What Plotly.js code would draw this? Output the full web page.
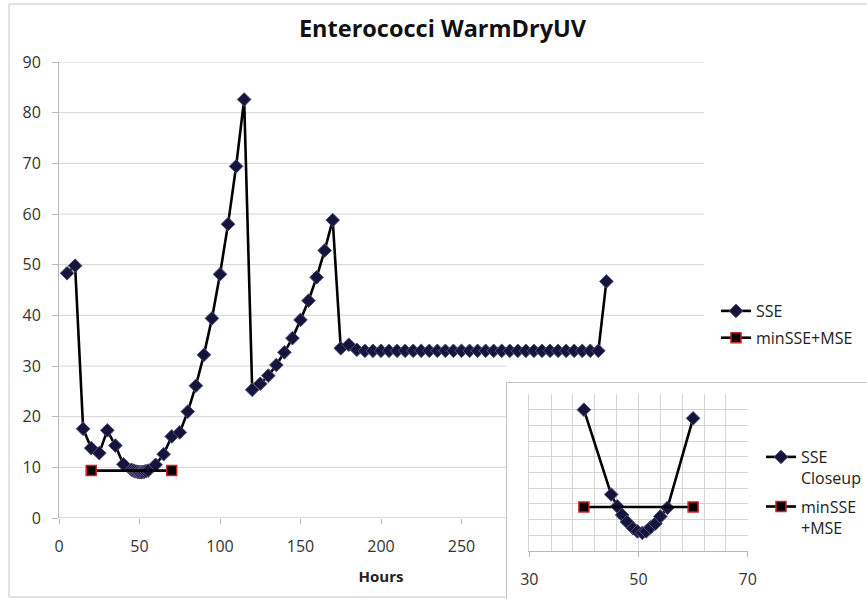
<!DOCTYPE html>
<html>
<head>
<meta charset="utf-8">
<script src="https://cdn.plot.ly/plotly-3.0.1.min.js"></script>
<style>html,body{margin:0;padding:0;background:#fff;}#chart{width:867px;height:599px;}</style>
</head>
<body>
<div id="chart"></div>
<script>
// ---- data ----
var sseX = [5,10,15,20,25,30,35,40,45,46.1,47,47.9,49,49.8,50.7,51.4,52.2,53.1,54,55.3,60,65,70,75,80,85,90,95,100,105,110,115,120,125,130,135,140,145,150,155,160,165,170,175,180,185,190,195,200,205,210,215,220,225,230,235,240,245,250,255,260,265,270,275,280,285,290,295,300,305,310,315,320,325,330,335,340];
var sseY = [48.3,49.8,17.6,13.8,12.8,17.3,14.3,10.6,9.52,9.37,9.26,9.17,9.09,9.05,9.03,9.05,9.10,9.15,9.24,9.35,10.5,12.6,16.1,16.9,21.0,26.1,32.2,39.4,48.1,58.0,69.4,82.6,25.3,26.5,28.1,30.2,32.7,35.5,39.1,42.9,47.5,52.8,58.8,33.5,34.2,33.2,33.0,33.0,33.0,33.0,33.0,33.0,33.0,33.0,33.0,33.0,33.0,33.0,33.0,33.0,33.0,33.0,33.0,33.0,33.0,33.0,33.0,33.0,33.0,33.0,33.0,33.0,33.0,33.0,33.0,33.0,46.7];
var minX = [20, 70];
var minY = [9.36, 9.36];

var closeX = [40,45,46.1,47,47.9,49,49.8,50.7,51.4,52.2,53.1,54,55.3,60];
var closeY = [10.60,9.52,9.37,9.26,9.17,9.09,9.05,9.03,9.05,9.10,9.15,9.24,9.35,10.49];
var closeMinX = [40, 60];
var closeMinY = [9.36, 9.36];

var xTickVals = [0,50,100,150,200,250];
var yTickVals = [0,10,20,30,40,50,60,70,80,90];
var insetTickVals = [30,50,70];
var seriesNames = ['SSE','minSSE+MSE','SSE<br>Closeup','minSSE<br>+MSE'];
var chartTitle = 'Enterococci WarmDryUV';
var xTitle = 'Hours';

// ---- layout helpers (pixels -> paper) ----
var W = 867, H = 599;
function px(x){ return x / W; }
function py(y){ return 1 - y / H; }
var FONT = '"Open Sans", "Noto Sans", sans-serif';
var GRID = '#d4d4d4';
var AXIS = '#b8b8b8';

var diamond = {symbol:'diamond', size:10.5, color:'#14143c', line:{color:'#50507a', width:1}};
var square = {symbol:'square', size:10, color:'#000000', line:{color:'#d02020', width:1.5}};
var lineStyle = {color:'#000000', width:2.6};

var traces = [
  {x:sseX, y:sseY, name:seriesNames[0], type:'scatter', mode:'lines+markers', line:lineStyle, marker:diamond, xaxis:'x', yaxis:'y', legend:'legend', legendgroup:'a'},
  {x:minX, y:minY, name:seriesNames[1], type:'scatter', mode:'lines+markers', line:lineStyle, marker:square, xaxis:'x', yaxis:'y', legend:'legend', legendgroup:'b'},
  {x:closeX, y:closeY, name:seriesNames[2], type:'scatter', mode:'lines+markers', line:lineStyle, marker:diamond, xaxis:'x2', yaxis:'y2', legend:'legend2', legendgroup:'c'},
  {x:closeMinX, y:closeMinY, name:seriesNames[3], type:'scatter', mode:'lines+markers', line:lineStyle, marker:square, xaxis:'x2', yaxis:'y2', legend:'legend2', legendgroup:'d'}
];

var shapes = [];
// chart outer border
shapes.push({type:'rect', xref:'paper', yref:'paper', x0:px(9), x1:px(900), y0:py(597), y1:py(4), line:{color:'#c4c4c4', width:1}, fillcolor:'rgba(0,0,0,0)', layer:'below'});
// inset box
shapes.push({type:'rect', xref:'paper', yref:'paper', x0:px(506.5), x1:px(900), y0:py(640), y1:py(382.5), line:{color:'#c4c4c4', width:1}, fillcolor:'#ffffff', layer:'below'});
// main gridlines (stop at the inset for the lower ones)
yTickVals.forEach(function(v){
  var right = v <= 30 ? px(506.5) : px(704);
  shapes.push({type:'line', xref:'paper', yref:'y', x0:px(59), x1:right, y0:v, y1:v, line:{color: v===0 ? AXIS : GRID, width:1}, layer:'below'});
});

var layout = {
  width:W, height:H,
  margin:{l:0, r:0, t:0, b:0},
  paper_bgcolor:'#ffffff',
  plot_bgcolor:'rgba(0,0,0,0)',
  font:{family:FONT, color:'#333333', size:16},
  title:{text:'<b>'+chartTitle+'</b>', font:{family:FONT, size:23.5, color:'#111111'}, x:px(442.5), xanchor:'center', xref:'paper', y:py(29), yanchor:'middle', yref:'paper'},
  showlegend:true,
  xaxis:{domain:[px(59), px(703)], range:[0,400], tickmode:'array', tickvals:xTickVals, ticks:'outside', ticklen:5, tickcolor:AXIS, showgrid:false, zeroline:false, showline:false, ticklabelstandoff:9, tickfont:{size:16, color:'#333333'},
         title:{text:'<b>'+xTitle+'</b>', font:{size:15, color:'#222222'}, standoff:15}, anchor:'y', fixedrange:true},
  yaxis:{domain:[py(518), py(62)], range:[0,90], tickmode:'array', tickvals:yTickVals, ticks:'outside', ticklen:6, tickcolor:AXIS, showgrid:false, zeroline:false, showline:true, linecolor:AXIS, linewidth:1, ticklabelstandoff:8, tickfont:{size:16, color:'#333333'}, anchor:'x', fixedrange:true},
  xaxis2:{domain:[px(529.3), px(747.7)], range:[30,70], tickmode:'array', tickvals:insetTickVals, ticks:'outside', ticklen:5, tickcolor:AXIS, showgrid:true, gridcolor:GRID, zeroline:false, showline:true, linecolor:AXIS, ticklabelstandoff:9, tickfont:{size:16, color:'#333333'},
          minor:{dtick:4, tick0:30, showgrid:true, gridcolor:GRID, ticks:''}, anchor:'y2', fixedrange:true},
  yaxis2:{domain:[py(551), py(394)], range:[8.8,10.8], dtick:0.2, tick0:8.8, showticklabels:false, ticks:'', showgrid:true, gridcolor:GRID, zeroline:false, showline:true, linecolor:GRID, anchor:'x2', fixedrange:true},
  legend:{x:px(716), xanchor:'left', y:py(294), yanchor:'top', font:{size:16, color:'#222222'}, itemwidth:30, bgcolor:'rgba(0,0,0,0)', borderwidth:0, tracegroupgap:3, traceorder:'grouped'},
  legend2:{x:px(761), xanchor:'left', y:py(440), yanchor:'top', font:{size:16, color:'#222222'}, itemwidth:30, bgcolor:'rgba(0,0,0,0)', borderwidth:0, tracegroupgap:5, valign:'top', traceorder:'grouped'},
  shapes:shapes
};

Plotly.newPlot('chart', traces, layout, {displayModeBar:false, staticPlot:true});
</script>
</body>
</html>
